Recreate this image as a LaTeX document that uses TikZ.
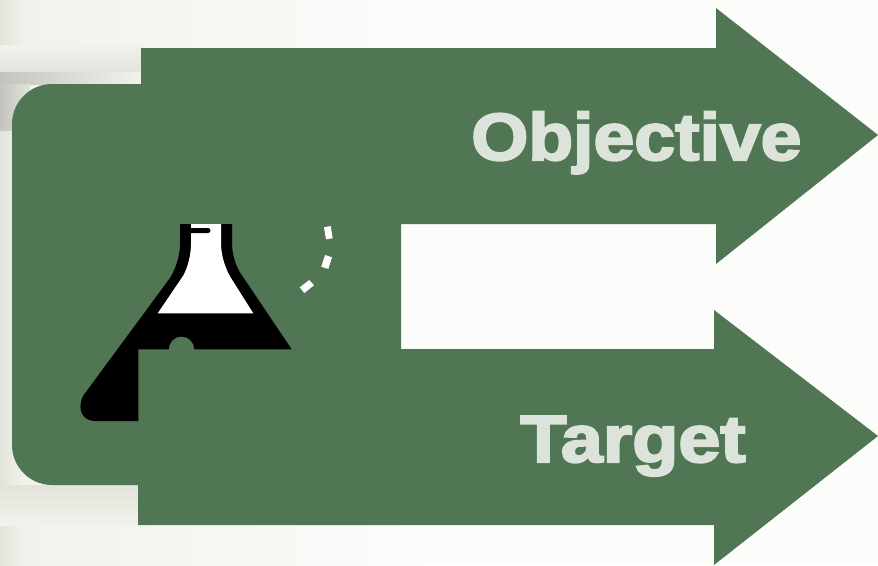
\documentclass[tikz,border=0pt]{standalone}
\usepackage{xcolor}
\usepackage{fontspec}
\setmainfont{Liberation Sans}
\newfontfamily\labelfont{Liberation Sans}[BoldFeatures={FakeBold=3}]
\usepackage{tikz}
\usetikzlibrary{positioning}
\definecolor{paper}{RGB}{252,252,251}
\definecolor{paperleft}{RGB}{241,242,236}
\definecolor{paperdark}{RGB}{226,227,218}
\definecolor{paperband}{RGB}{196,196,190}
\definecolor{arrowgreen}{RGB}{80,118,84}
\definecolor{labelgrey}{RGB}{220,227,218}

\begin{document}
\begin{tikzpicture}[
    x=0.75pt, y=-0.75pt,
    arrowbody/.style={fill=arrowgreen, draw=none},
    flaskblack/.style={fill=black, draw=none},
    flaskwhite/.style={fill=white, draw=none},
    arrowlabel/.style={text=labelgrey, font=\fontsize{50}{50}\labelfont\bfseries,
                       inner sep=0pt, anchor=base west, transform shape, xscale=1.1,
                       draw=none}
]
\useasboundingbox (0,0) rectangle (878,565);

% ---- Background ----
\fill[paper] (0,0) rectangle (878,565);
\shade[left color=paperleft, right color=paper] (24,0) rectangle (420,565);
\shade[left color=paperdark, right color=paperleft] (0,0) rectangle (24,565);
\shade[top color=paperleft, bottom color=paperdark] (0,45) rectangle (141,72);
\shade[left color=paperband, right color=paperleft] (0,72) rectangle (141,84);
\shade[left color=paperband, right color=paperdark] (0,84) rectangle (30,130);
\shade[top color=paperdark, bottom color=paperleft] (0,485) rectangle (138,525);

% ---- Arrows ----
\draw[arrowbody] (141,48) -- (716,48) -- (716,8) -- (878,135) -- (716,264) -- (716,224)
    -- (401,224) -- (401,349) -- (714,349) -- (714,310) -- (878,436) -- (714,565)
    -- (714,525) -- (138,525) -- (138,485) -- (52,485)
    .. controls (30,485) and (12,467) .. (12,445) -- (12,124)
    .. controls (12,102) and (30,84) .. (52,84) -- (141,84) -- cycle;

% ---- Flask ----
\draw[flaskblack] (180,224) -- (232,224) -- (232,243)
    .. controls (232,255) and (236,267) .. (241.7,275)
    -- (291.7,349.3) -- (194.3,349.3)
    arc[start angle=0, end angle=-180, radius=12.8] -- (138.3,349.3)
    -- (138.3,421) -- (95,421)
    .. controls (84,421) and (76,411) .. (83,396)
    -- (170,278) .. controls (176,268) and (180,256) .. (180,243) -- cycle;
\draw[flaskwhite] (191,224) -- (221,224) -- (221,243)
    .. controls (221,255) and (225,268) .. (231,278)
    -- (253.3,313.3) -- (157.7,313.3) -- (183,276)
    .. controls (188,267) and (191,255) .. (191,243) -- cycle;
\draw[flaskblack] (191,228) -- (208,228) arc[start angle=-90, end angle=90, radius=2.5]
    -- (191,233) -- cycle;

% ---- Bubbles ----
\draw[flaskwhite] (324,227.3) -- (330.7,226) -- (332.7,238.3) -- (326,239.3) -- cycle;
\draw[flaskwhite] (325,255) -- (332,257.3) -- (328.3,269) -- (321.3,266.7) -- cycle;
\draw[flaskwhite] (309.3,280) -- (314,285.3) -- (304.3,293) -- (299.7,287.3) -- cycle;

% ---- Labels ----
\node[arrowlabel] (objective) at (471,160) {Objective};
\node[arrowlabel, xscale=1.03] (target) at (520,462) {Target};

\end{tikzpicture}
\end{document}
